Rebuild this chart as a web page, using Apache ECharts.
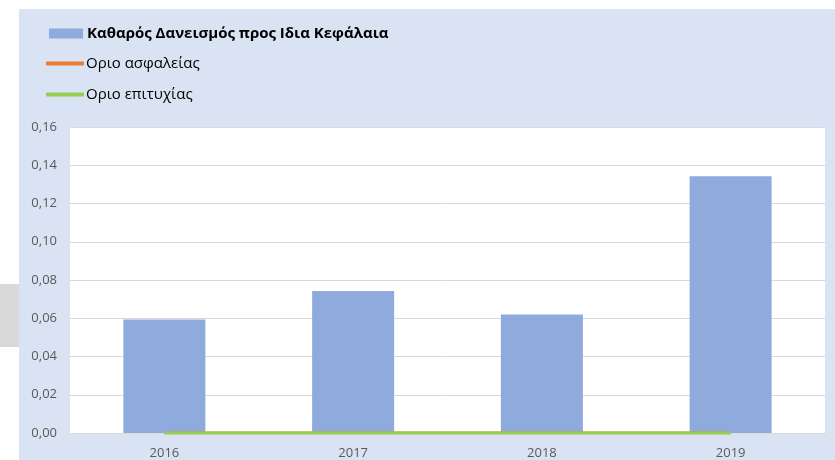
<!DOCTYPE html>
<html><head><meta charset="utf-8">
<script src="https://cdn.jsdelivr.net/npm/echarts@6/dist/echarts.min.js"></script>
<style>html,body{margin:0;padding:0;background:#fff}#c{width:835px;height:460px}</style>
</head><body><div id="c"></div>
<script>
const categories = ['2016', '2017', '2018', '2019'];
const netBorrowing = [0.0593, 0.0742, 0.0620, 0.1342];
const safetyLimit = [0, 0, 0, 0];
const successLimit = [0, 0, 0, 0];
const yTicks = { min: 0, max: 0.16, interval: 0.02 };

const chart = echarts.init(document.getElementById('c'));
const font = 'Open Sans, Liberation Sans, sans-serif';
chart.setOption({
  animation: false,
  backgroundColor: '#ffffff',
  graphic: [
    { type: 'rect', z: -10, shape: { x: 19, y: 9, width: 820, height: 460 }, style: { fill: '#dae3f3' } },
    { type: 'rect', z: -10, shape: { x: 0, y: 284, width: 19, height: 63 }, style: { fill: '#d9d9d9' } }
  ],
  legend: [
    { left: 49, top: 26, padding: 0, itemWidth: 34, itemHeight: 10, icon: 'rect', itemGap: 4,
      data: ['Καθαρός Δανεισμός προς Ιδια Κεφάλαια'],
      textStyle: { fontFamily: font, fontSize: 15, fontWeight: 'bold', color: '#000', padding: [0,0,0,-1] } },
    { left: 46, top: 56, padding: 0, itemWidth: 38, itemHeight: 4, icon: 'roundRect',
      data: ['Οριο ασφαλείας'],
      textStyle: { fontFamily: font, fontSize: 15, color: '#000', padding: [0,0,0,-3] } },
    { left: 46, top: 87, padding: 0, itemWidth: 38, itemHeight: 4, icon: 'roundRect',
      data: ['Οριο επιτυχίας'],
      textStyle: { fontFamily: font, fontSize: 15, color: '#000', padding: [0,0,0,-3] } }
  ],
  grid: { left: 70, right: 10, top: 127, bottom: 27, show: true, backgroundColor: '#ffffff', borderWidth: 0, containLabel: false },
  xAxis: {
    type: 'category', data: categories,
    axisLine: { lineStyle: { color: '#d9d9d9', width: 1 } },
    axisTick: { show: false },
    axisLabel: { color: '#595959', fontFamily: font, fontSize: 13, margin: 14 }
  },
  yAxis: {
    type: 'value', min: yTicks.min, max: yTicks.max, interval: yTicks.interval,
    axisLine: { show: false }, axisTick: { show: false },
    splitLine: { lineStyle: { color: '#d9d9d9', width: 1 } },
    axisLabel: { color: '#595959', fontFamily: font, fontSize: 13, margin: 13,
      formatter: v => v.toFixed(2).replace('.', ',') }
  },
  series: [
    { name: 'Καθαρός Δανεισμός προς Ιδια Κεφάλαια', type: 'bar', data: netBorrowing,
      barWidth: 82, itemStyle: { color: '#8faadc' } },
    { name: 'Οριο ασφαλείας', type: 'line', data: safetyLimit, showSymbol: false, symbol: 'none',
      lineStyle: { color: '#ed7d31', width: 3 }, itemStyle: { color: '#ed7d31' } },
    { name: 'Οριο επιτυχίας', type: 'line', data: successLimit, showSymbol: false, symbol: 'none',
      lineStyle: { color: '#92d050', width: 3 }, itemStyle: { color: '#92d050' } }
  ]
});
</script></body></html>
